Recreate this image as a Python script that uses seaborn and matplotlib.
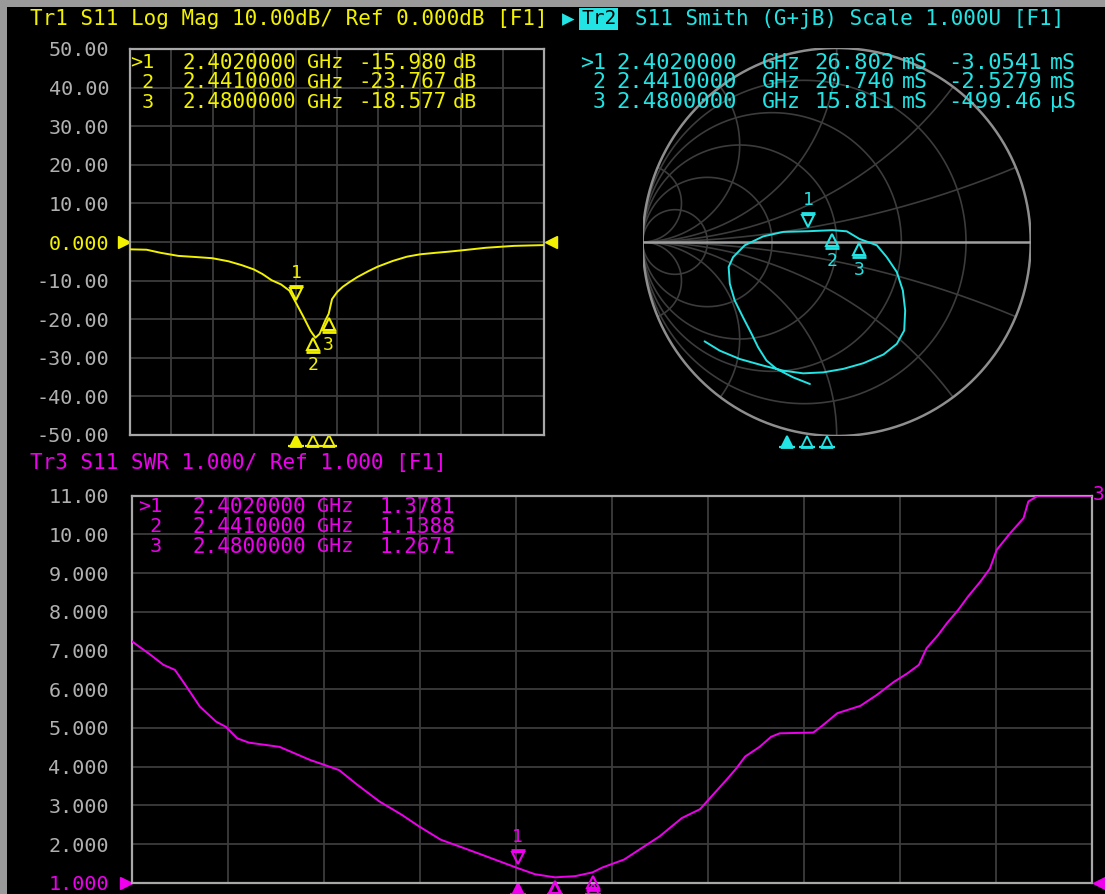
import numpy as np
import pandas as pd
import matplotlib
matplotlib.use("Agg")
import matplotlib.pyplot as plt
import matplotlib.transforms as mtransforms
from matplotlib.patches import Rectangle
import seaborn as sns

freq_db = [2.000, 2.040, 2.074, 2.117, 2.160, 2.199, 2.238, 2.270, 2.299, 2.320,
           2.342, 2.365, 2.385, 2.402, 2.419, 2.436, 2.441, 2.448, 2.458, 2.471,
           2.480, 2.488, 2.500, 2.514, 2.530, 2.549, 2.575, 2.598, 2.635, 2.669,
           2.700, 2.738, 2.770, 2.807, 2.859, 2.900, 2.928, 3.000]
s11_db = [-1.9, -2.0, -2.8, -3.6, -3.9, -4.2, -5.0, -6.0, -7.1, -8.3,
          -9.9, -11.0, -12.6, -15.98, -19.4, -23.0, -23.767, -24.8, -23.8, -20.5,
          -18.577, -14.8, -13.0, -11.6, -10.4, -9.1, -7.6, -6.4, -4.9, -3.8,
          -3.2, -2.8, -2.5, -2.1, -1.5, -1.2, -1.0, -0.8]

freq_swr = [2.000, 2.019, 2.033, 2.045, 2.057, 2.071, 2.088, 2.098, 2.110, 2.122,
            2.154, 2.186, 2.200, 2.216, 2.234, 2.258, 2.281, 2.299, 2.322, 2.341,
            2.364, 2.378, 2.402, 2.420, 2.441, 2.462, 2.480, 2.490, 2.513, 2.550,
            2.573, 2.592, 2.621, 2.630, 2.639, 2.654, 2.666, 2.675, 2.710, 2.719,
            2.735, 2.759, 2.776, 2.794, 2.808, 2.820, 2.828, 2.840, 2.849, 2.861,
            2.871, 2.884, 2.894, 2.901, 2.915, 2.929, 2.934, 2.944, 3.000]
swr = [7.24, 6.90, 6.63, 6.50, 6.07, 5.55, 5.16, 5.03, 4.73, 4.62,
       4.51, 4.17, 4.05, 3.91, 3.55, 3.10, 2.76, 2.46, 2.11, 1.94,
       1.73, 1.60, 1.3781, 1.22, 1.1388, 1.17, 1.2671, 1.39, 1.60, 2.20,
       2.67, 2.90, 3.70, 3.96, 4.26, 4.51, 4.77, 4.86, 4.88, 5.05,
       5.38, 5.57, 5.85, 6.19, 6.41, 6.63, 7.06, 7.40, 7.70, 8.05,
       8.39, 8.78, 9.12, 9.60, 10.03, 10.42, 10.85, 11.0, 11.0]

smith_re = [-0.138, -0.224, -0.310, -0.362, -0.405, -0.439, -0.483, -0.526, -0.551, -0.557,
            -0.534, -0.474, -0.379, -0.276, -0.149, -0.022, 0.052, 0.117, 0.207, 0.258,
            0.310, 0.341, 0.353, 0.348, 0.310, 0.241, 0.137, 0.034, -0.069, -0.173,
            -0.276, -0.379, -0.500, -0.603, -0.681]
smith_im = [-0.732, -0.698, -0.654, -0.611, -0.543, -0.473, -0.388, -0.301, -0.215, -0.129,
            -0.078, -0.017, 0.029, 0.052, 0.0555, 0.061, 0.055, 0.016, -0.017, -0.078,
            -0.155, -0.250, -0.353, -0.456, -0.525, -0.580, -0.625, -0.654, -0.672, -0.677,
            -0.663, -0.637, -0.603, -0.560, -0.512]

marker_ids = ["1", "2", "3"]
marker_rows = [">1", " 2", " 3"]
marker_freq = [2.402, 2.441, 2.480]
marker_freq_text = ["2.4020000", "2.4410000", "2.4800000"]
marker_db = [-15.980, -23.767, -18.577]
marker_db_text = ["-15.980", "-23.767", "-18.577"]
marker_swr = [1.3781, 1.1388, 1.2671]
marker_swr_text = ["1.3781", "1.1388", "1.2671"]
marker_g_ms = [26.802, 20.740, 15.811]
marker_b_ms = [-3.0541, -2.5279, -0.49946]
marker_g_text = ["26.802", "20.740", "15.811"]
marker_b_text = ["-3.0541", "-2.5279", "-499.46"]
marker_b_unit = ["mS", "mS", "\u00b5S"]

db_ticks = [50, 40, 30, 20, 10, 0, -10, -20, -30, -40, -50]
db_tick_labels = ["50.00", "40.00", "30.00", "20.00", "10.00", "0.000",
                  "-10.00", "-20.00", "-30.00", "-40.00", "-50.00"]
swr_ticks = [11, 10, 9, 8, 7, 6, 5, 4, 3, 2, 1]
swr_tick_labels = ["11.00", "10.00", "9.000", "8.000", "7.000", "6.000",
                   "5.000", "4.000", "3.000", "2.000", "1.000"]
freq_grid = [2.0, 2.1, 2.2, 2.3, 2.4, 2.5, 2.6, 2.7, 2.8, 2.9, 3.0]

header1 = "Tr1 S11 Log Mag 10.00dB/ Ref 0.000dB [F1]"
header2 = "S11 Smith (G+jB) Scale 1.000U [F1]"
header3 = "Tr3 S11 SWR 1.000/ Ref 1.000 [F1]"

# ---------------- style ----------------
sns.set_theme(style="dark")
plt.rcParams["font.family"] = ["DejaVu Sans Mono", "DejaVu Sans"]

YEL = "#F2F200"
CYN = "#22E4E4"
MAG = "#EE00EE"
GRID = "#3C3C3C"
FRAME = "#A8A8A8"
TICK = "#B0B0B0"
FS = 14.5

W, H = 1105, 894
fig = plt.figure(figsize=(W / 100, H / 100), dpi=100)
fig.patch.set_facecolor("#9a9a9a")
fig.add_artist(Rectangle((7 / W, 0), 1, 1 - 7 / H, transform=fig.transFigure,
                         facecolor="black", edgecolor="none", zorder=-10))


def px_axes(x0, ytop, w, h):
    return fig.add_axes([x0 / W, 1 - (ytop + h) / H, w / W, h / H])


def ftext(x, y, s, color, ha="left", size=FS, **kw):
    return fig.text(x / W, 1 - y / H, s, color=color, ha=ha, va="center",
                    fontsize=size, **kw)


def style_rect_axes(ax, ticks, labels, special, color, pad):
    ax.set_facecolor("black")
    ax.set_xlim(2.0, 3.0)
    ax.set_xticks(freq_grid)
    ax.set_xticklabels([])
    ax.set_yticks(ticks)
    ax.set_yticklabels(labels)
    ax.tick_params(axis="both", length=0)
    ax.tick_params(axis="y", pad=pad, labelsize=FS, labelcolor=TICK)
    for lab in ax.get_yticklabels():
        if lab.get_text() == special:
            lab.set_color(color)
    ax.grid(True, color=GRID, lw=1.3)
    for sp in ax.spines.values():
        sp.set_visible(True)
        sp.set_color(FRAME)
        sp.set_linewidth(1.6)
    ax.set_xlabel("")
    ax.set_ylabel("")


def off(ax_tr, dy, dx=0):
    return mtransforms.offset_copy(ax_tr, fig=fig, x=dx, y=dy, units="dots")


def draw_marker(ax, x, y, label, color, above):
    s = 1 if above else -1
    tri = "v" if above else "^"
    ax.plot([x], [y], marker=tri, ms=8, mfc="none", mec=color, mew=1.5,
            transform=off(ax.transData, s * 10), clip_on=False, zorder=6)
    ax.plot([x], [y], marker="_", ms=10, mec=color, mew=2.0,
            transform=off(ax.transData, s * 18), clip_on=False, zorder=6)
    if label:
        ax.text(x, y, label, color=color, ha="center", va="center", fontsize=13,
                transform=off(ax.transData, s * 31), clip_on=False, zorder=6)


def stim_marks(ax, color, dy=-6):
    base = mtransforms.blended_transform_factory(ax.transData, ax.transAxes)
    for i, f in enumerate(marker_freq):
        ax.plot([f], [0], marker="^", ms=8, mfc=color if i == 0 else "none",
                mec=color, mew=1.3, transform=off(base, dy), clip_on=False)
        ax.plot([f], [0], marker="_", ms=11, mec=color, mew=1.6,
                transform=off(base, dy - 5), clip_on=False)


def ref_arrows(ax, yval, color):
    bl = mtransforms.blended_transform_factory(ax.transAxes, ax.transData)
    ax.plot([0], [yval], marker=">", ms=8, color=color, transform=off(bl, 0, -6),
            clip_on=False)
    ax.plot([1], [yval], marker="<", ms=8, color=color, transform=off(bl, 0, 7),
            clip_on=False)


# ---------------- Trace 1 : Log Mag ----------------
ax1 = px_axes(130, 49, 414, 386)
df1 = pd.DataFrame({"freq": freq_db, "db": s11_db})
sns.lineplot(data=df1, x="freq", y="db", ax=ax1, color=YEL, lw=1.4,
             estimator=None, sort=False, zorder=4)
ax1.set_ylim(-50, 50)
style_rect_axes(ax1, db_ticks, db_tick_labels, "0.000", YEL, 15)
for i, (f, v) in enumerate(zip(marker_freq, marker_db)):
    draw_marker(ax1, f, v, marker_ids[i], YEL, above=(i == 0))
stim_marks(ax1, YEL)
ref_arrows(ax1, 0, YEL)

# ---------------- Trace 2 : Smith (admittance) ----------------
axs = px_axes(836.7 - 194, 48, 388, 388)
axs.set_facecolor("none")
axs.set_xlim(-1, 1)
axs.set_ylim(-1, 1)
axs.axis("off")
t = np.linspace(0, 2 * np.pi, 500)
for g in [0.2, 0.5, 1.0, 2.0, 5.0]:
    c, r = -g / (1 + g), 1 / (1 + g)
    axs.plot(c + r * np.cos(t), r * np.sin(t), color=GRID, lw=1.2, zorder=1)
gg = np.concatenate([np.linspace(0, 1, 200), np.logspace(0, 3.5, 300)])
for b in [0.2, 0.5, 1.0, 2.0, 5.0]:
    for sgn in (1, -1):
        yv = gg + 1j * sgn * b
        G = (1 - yv) / (1 + yv)
        axs.plot(G.real, G.imag, color=GRID, lw=1.2, zorder=1)
axs.plot(np.cos(t), np.sin(t), color="#8E8E8E", lw=1.8, zorder=2)
axs.plot([-1, 1], [0, 0], color="#A0A0A0", lw=1.8, zorder=2)
dfs = pd.DataFrame({"re": smith_re, "im": smith_im})
sns.lineplot(data=dfs, x="re", y="im", ax=axs, color=CYN, lw=1.4,
             estimator=None, sort=False, zorder=4)
axs.set_xlabel("")
axs.set_ylabel("")
y_adm = (np.array(marker_g_ms) + 1j * np.array(marker_b_ms)) / 20.0
gam = (1 - y_adm) / (1 + y_adm)
for i in range(3):
    draw_marker(axs, gam[i].real, gam[i].imag, marker_ids[i], CYN, above=(i == 0))
ax_st = px_axes(580.5, 48, 513, 388)
ax_st.set_xlim(2.0, 3.0)
ax_st.set_ylim(0, 1)
ax_st.axis("off")
stim_marks(ax_st, CYN)

# ---------------- Trace 3 : SWR ----------------
ax3 = px_axes(131.7, 495.7, 960, 387)
df3 = pd.DataFrame({"freq": freq_swr, "swr": swr})
sns.lineplot(data=df3, x="freq", y="swr", ax=ax3, color=MAG, lw=1.4,
             estimator=None, sort=False, zorder=4)
ax3.set_ylim(1, 11)
style_rect_axes(ax3, swr_ticks, swr_tick_labels, "1.000", MAG, 16.3)
for i, (f, v) in enumerate(zip(marker_freq, marker_swr)):
    # labels of markers 2 and 3 fall below the screen edge, as on the instrument
    draw_marker(ax3, f, v, marker_ids[i] if i == 0 else None, MAG, above=(i == 0))
stim_marks(ax3, MAG)
ref_arrows(ax3, 1, MAG)

# ---------------- headers ----------------
ftext(30, 19, header1, YEL, size=15)
ftext(562, 19, "\u25B6", CYN, size=15)
ftext(581, 19, "Tr2", "black", size=14,
      bbox=dict(boxstyle="square,pad=0.08", fc=CYN, ec="none"))
ftext(635, 19, header2, CYN, size=15)
ftext(30, 463, header3, MAG, size=15)
ftext(1104, 494, "3", MAG, ha="right", size=14)

# ---------------- marker tables ----------------
rows_top = [63, 82.5, 102]
for i in range(3):
    y = rows_top[i]
    ftext(130, y, marker_rows[i], YEL)
    ftext(182, y, marker_freq_text[i], YEL, size=15)
    ftext(307, y, "GHz", YEL)
    ftext(447, y, marker_db_text[i], YEL, ha="right", size=15)
    ftext(453, y, "dB", YEL)

    ftext(580, y, marker_rows[i], CYN, size=15.5)
    ftext(616, y, marker_freq_text[i], CYN, size=16)
    ftext(762, y, "GHz", CYN, size=15.5)
    ftext(895, y, marker_g_text[i], CYN, ha="right", size=16)
    ftext(902, y, "mS", CYN, size=15.5)
    ftext(1042, y, marker_b_text[i], CYN, ha="right", size=16)
    ftext(1050, y, marker_b_unit[i], CYN, size=15.5)

rows_bot = [507, 527, 547]
for i in range(3):
    y = rows_bot[i]
    ftext(138, y, marker_rows[i], MAG)
    ftext(192, y, marker_freq_text[i], MAG, size=15)
    ftext(317, y, "GHz", MAG)
    ftext(455, y, marker_swr_text[i], MAG, ha="right", size=15)

fig.savefig("out.png", dpi=100, facecolor=fig.get_facecolor())
